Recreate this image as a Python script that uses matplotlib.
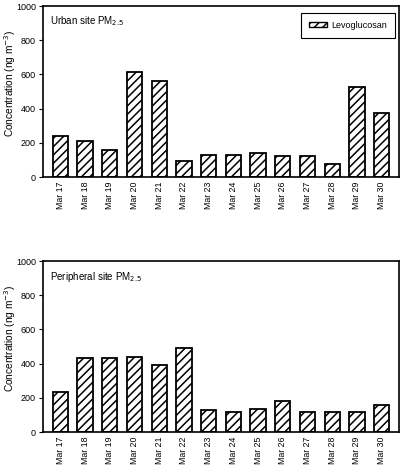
import numpy as np
import matplotlib.pyplot as plt
from matplotlib.patches import Patch

plt.rcParams['font.family'] = ['Liberation Sans', 'DejaVu Sans']
plt.rcParams['hatch.linewidth'] = 1.1

days = ['Mar 17', 'Mar 18', 'Mar 19', 'Mar 20', 'Mar 21', 'Mar 22', 'Mar 23',
        'Mar 24', 'Mar 25', 'Mar 26', 'Mar 27', 'Mar 28', 'Mar 29', 'Mar 30']
urban = [238, 208, 156, 614, 563, 95, 127, 127, 142, 121, 125, 74, 526, 372]
peripheral = [236, 435, 431, 440, 394, 491, 131, 119, 134, 183, 119, 119, 119, 160]
titles = ['Urban site PM$_{2.5}$', 'Peripheral site PM$_{2.5}$']

fig = plt.figure(figsize=(4.07, 4.73), dpi=100)
ax1 = fig.add_axes([43 / 407, 1 - 177 / 473, 356 / 407, 171 / 473])
ax2 = fig.add_axes([43 / 407, 1 - 432 / 473, 356 / 407, 171 / 473])

x = np.arange(len(days))
for ax, vals, title in zip([ax1, ax2], [urban, peripheral], titles):
    ax.bar(x, vals, width=0.62, color='white', edgecolor='black',
           linewidth=1.3, hatch='////')
    ax.set_xlim(-0.7, len(days) - 0.3)
    ax.set_ylim(0, 1000)
    ax.set_yticks(range(0, 1001, 200))
    ax.set_xticks(x)
    ax.set_xticklabels(days, rotation=90, fontsize=6.3)
    ax.tick_params(axis='y', labelsize=6.5, length=3, direction='out', pad=2)
    ax.tick_params(axis='x', length=0, pad=3)
    for s in ax.spines.values():
        s.set_linewidth(1.2)
    ax.set_ylabel('Concentration (ng m$^{-3}$)', fontsize=7.3)
    ax.yaxis.set_label_coords(-25 / 356, 0.55)
    ax.text(0.02, 0.95, title, transform=ax.transAxes, fontsize=7,
            va='top', ha='left')

handle = Patch(facecolor='white', edgecolor='black', hatch='////',
               linewidth=1.0, label='Levoglucosan')
leg = ax1.legend(handles=[handle], loc='upper right', fontsize=6.5,
                 fancybox=False, edgecolor='black', framealpha=1,
                 handlelength=2.0, handleheight=0.5, handletextpad=0.5,
                 bbox_to_anchor=(0.99, 0.96), borderpad=0.9, borderaxespad=0)
leg.get_frame().set_linewidth(0.8)

fig.savefig('out.png', dpi=100)
